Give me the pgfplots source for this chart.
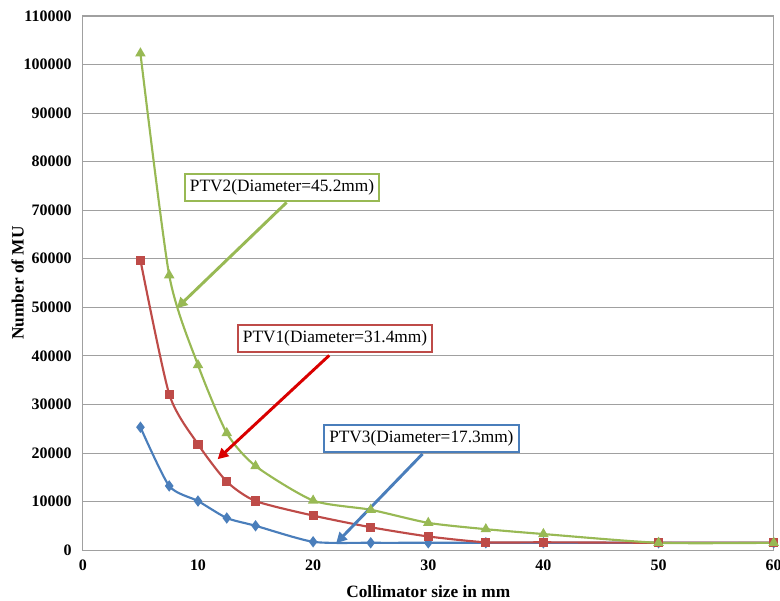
\documentclass[border=0pt]{standalone}
\usepackage{fontspec}
\setmainfont{Liberation Serif}
\usepackage{pgfplots}
\pgfplotsset{compat=1.18}
\usetikzlibrary{arrows.meta}

\definecolor{ptvblue}{HTML}{4A7EBB}
\definecolor{ptvred}{HTML}{BE4B48}
\definecolor{ptvgreen}{HTML}{98B954}
\definecolor{gridgray}{HTML}{A0A0A0}

\begin{document}
\begin{tikzpicture}
\begin{axis}[
    name=ax,
    scale only axis,
    width=519pt,
    height=401.25pt,
    xmin=0, xmax=60,
    ymin=0, ymax=110000,
    xtick={0,10,...,60},
    ytick={0,10000,...,110000},
    scaled y ticks=false,
    /pgf/number format/assume math mode=true,
    yticklabel={\pgfmathprintnumber[fixed,1000 sep={}]{\tick}},
    tick label style={font=\fontsize{12}{14}\selectfont\bfseries},
    yticklabel style={xshift=-5pt},
    xticklabel style={yshift=-4pt},
    major tick length=0pt,
    ymajorgrids,
    grid style={gridgray, line width=0.6pt},
    axis line style={gridgray, line width=0.8pt},
    xlabel={Collimator size in mm},
    ylabel={Number of MU},
    label style={font=\fontsize{13}{15}\selectfont\bfseries},
    xlabel style={yshift=-4.5pt},
    ylabel style={yshift=-7pt},
    every axis plot/.append style={line width=1.6pt, smooth, tension=0.4},
]
\addplot[color=ptvblue, mark=diamond*, mark size=3pt] coordinates {
    (5,25300) (7.5,13200) (10,10100) (12.5,6600) (15,5000)
    (20,1700) (25,1500) (30,1500) (35,1500) (40,1500) (50,1500) (60,1500)
};
\addplot[color=ptvred, mark=square*, mark size=2.6pt] coordinates {
    (5,59700) (7.5,32100) (10,21800) (12.5,14100) (15,10100)
    (20,7100) (25,4700) (30,2800) (35,1600) (40,1600) (50,1500) (60,1500)
};
\addplot[color=ptvgreen, mark=triangle*, mark size=3pt] coordinates {
    (5,102300) (7.5,56600) (10,38100) (12.5,24100) (15,17300)
    (20,10200) (25,8300) (30,5600) (35,4300) (40,3300) (50,1500) (60,1500)
};

% callouts
\draw[ptvgreen, line width=2.2pt, -{Triangle[length=8pt,width=8pt]}]
    (axis cs:17.7,71600) -- (axis cs:8.15,49800);
\node[draw=ptvgreen, line width=1.5pt, fill=white, inner sep=4pt,
      font=\fontsize{13}{15}\selectfont] at (axis cs:17.3,74700) {PTV2(Diameter=45.2mm)};

\draw[red!85!black, line width=2.2pt, -{Triangle[length=8pt,width=8pt]}]
    (axis cs:21.4,40100) -- (axis cs:11.7,18700);
\node[draw=ptvred, line width=1.5pt, fill=white, inner sep=4pt,
      font=\fontsize{13}{15}\selectfont] at (axis cs:21.9,43600) {PTV1(Diameter=31.4mm)};

\draw[ptvblue, line width=2.2pt, -{Triangle[length=8pt,width=8pt]}]
    (axis cs:29.5,19800) -- (axis cs:22.0,1400);
\node[draw=ptvblue, line width=1.5pt, fill=white, inner sep=4pt,
      font=\fontsize{13}{15}\selectfont] at (axis cs:29.4,23000) {PTV3(Diameter=17.3mm)};
\end{axis}
\pgfresetboundingbox
\path ([shift={(-62.25pt,-38.25pt)}]ax.south west) rectangle ([shift={(523.75pt,413.25pt)}]ax.south west);
\end{tikzpicture}
\end{document}
